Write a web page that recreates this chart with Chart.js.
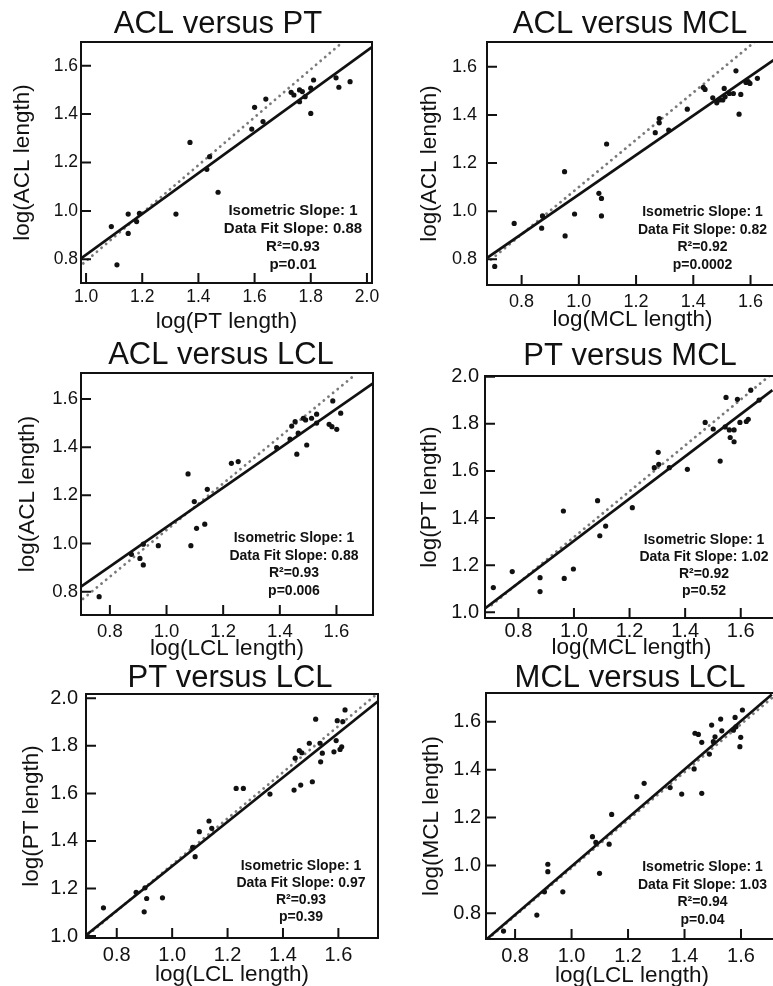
<!DOCTYPE html>
<html>
<head>
<meta charset="utf-8">
<script src="https://cdn.jsdelivr.net/npm/chart.js@4.4.1/dist/chart.umd.min.js"></script>
<style>
    html, body { margin: 0; padding: 0; background: #fff; }
    body { width: 773px; height: 986px; overflow: hidden; position: relative; }
    canvas { position: absolute; }
</style>
</head>
<body>
<script>
// ===== TEXT =====
const panelTitles = ['ACL versus PT', 'ACL versus MCL', 'ACL versus LCL', 'PT versus MCL', 'PT versus LCL', 'MCL versus LCL'];
const xAxisTitles = ['log(PT length)', 'log(MCL length)', 'log(LCL length)', 'log(MCL length)', 'log(LCL length)', 'log(LCL length)'];
const yAxisTitles = ['log(ACL length)', 'log(ACL length)', 'log(ACL length)', 'log(PT length)', 'log(PT length)', 'log(MCL length)'];
const fitSlopes = ['0.88', '0.82', '0.88', '1.02', '0.97', '1.03'];
const rSquared = ['0.93', '0.92', '0.93', '0.92', '0.93', '0.94'];
const pValues = ['0.01', '0.0002', '0.006', '0.52', '0.39', '0.04'];

// ===== AXES =====
const xTicks = [
    [1.0, 1.2, 1.4, 1.6, 1.8, 2.0],
    [0.8, 1.0, 1.2, 1.4, 1.6],
    [0.8, 1.0, 1.2, 1.4, 1.6],
    [0.8, 1.0, 1.2, 1.4, 1.6],
    [0.8, 1.0, 1.2, 1.4, 1.6],
    [0.8, 1.0, 1.2, 1.4, 1.6]
];
const yTicks = [
    [0.8, 1.0, 1.2, 1.4, 1.6],
    [0.8, 1.0, 1.2, 1.4, 1.6],
    [0.8, 1.0, 1.2, 1.4, 1.6],
    [1.0, 1.2, 1.4, 1.6, 1.8, 2.0],
    [1.0, 1.2, 1.4, 1.6, 1.8, 2.0],
    [0.8, 1.0, 1.2, 1.4, 1.6]
];
const xMin = [0.982, 0.679, 0.698, 0.680, 0.689, 0.697];
const xMax = [2.018, 1.696, 1.729, 1.734, 1.743, 1.731];
const yMin = [0.702, 0.693, 0.703, 0.976, 0.992, 0.693];
const yMax = [1.698, 1.703, 1.708, 2.003, 2.018, 1.720];

// ===== POINTS =====
const aclPtX = [1.09, 1.11, 1.15, 1.15, 1.18, 1.19, 1.32, 1.37, 1.43, 1.44, 1.47, 1.59, 1.60, 1.63, 1.64, 1.73, 1.74, 1.76, 1.77, 1.78, 1.76, 1.80, 1.80, 1.81, 1.89, 1.90, 1.94];
const aclPtY = [0.935, 0.777, 0.987, 0.907, 0.956, 0.99, 0.987, 1.283, 1.172, 1.224, 1.077, 1.338, 1.428, 1.369, 1.462, 1.49, 1.479, 1.50, 1.493, 1.472, 1.451, 1.507, 1.403, 1.541, 1.55, 1.511, 1.534];

const aclMclX = [0.706, 0.774, 0.87, 0.873, 0.952, 0.95, 0.985, 1.07, 1.079, 1.079, 1.097, 1.267, 1.281, 1.281, 1.314, 1.379, 1.435, 1.441, 1.468, 1.482, 1.491, 1.503, 1.508, 1.511, 1.526, 1.54, 1.549, 1.566, 1.56, 1.584, 1.592, 1.598, 1.624];
const aclMclY = [0.77, 0.949, 0.929, 0.98, 0.897, 1.164, 0.988, 1.074, 1.053, 0.98, 1.279, 1.326, 1.385, 1.367, 1.337, 1.424, 1.514, 1.506, 1.471, 1.45, 1.462, 1.462, 1.51, 1.475, 1.489, 1.489, 1.583, 1.485, 1.403, 1.535, 1.538, 1.531, 1.552];

const aclLclX = [0.762, 0.876, 0.906, 0.918, 0.918, 0.971, 1.076, 1.086, 1.098, 1.106, 1.135, 1.144, 1.229, 1.253, 1.389, 1.436, 1.442, 1.454, 1.465, 1.46, 1.483, 1.491, 1.495, 1.512, 1.53, 1.53, 1.574, 1.584, 1.587, 1.601, 1.615];
const aclLclY = [0.779, 0.955, 0.938, 0.997, 0.911, 0.991, 1.289, 0.991, 1.174, 1.063, 1.08, 1.225, 1.333, 1.34, 1.398, 1.434, 1.488, 1.506, 1.458, 1.371, 1.52, 1.513, 1.409, 1.52, 1.537, 1.5, 1.495, 1.485, 1.592, 1.474, 1.541];

const ptMclX = [0.71, 0.778, 0.878, 0.878, 0.962, 0.965, 0.998, 1.085, 1.093, 1.114, 1.21, 1.289, 1.303, 1.305, 1.343, 1.408, 1.472, 1.501, 1.526, 1.547, 1.544, 1.559, 1.576, 1.562, 1.576, 1.588, 1.597, 1.627, 1.62, 1.636, 1.666];
const ptMclY = [1.105, 1.173, 1.147, 1.088, 1.43, 1.144, 1.184, 1.474, 1.325, 1.366, 1.444, 1.614, 1.679, 1.628, 1.614, 1.607, 1.806, 1.778, 1.642, 1.912, 1.787, 1.774, 1.774, 1.742, 1.724, 1.904, 1.806, 1.819, 1.81, 1.943, 1.901];

const ptLclX = [0.752, 0.87, 0.902, 0.899, 0.908, 0.965, 1.074, 1.083, 1.098, 1.133, 1.143, 1.231, 1.257, 1.353, 1.44, 1.444, 1.459, 1.464, 1.468, 1.495, 1.506, 1.518, 1.534, 1.536, 1.542, 1.584, 1.592, 1.596, 1.606, 1.612, 1.616, 1.624];
const ptLclY = [1.119, 1.184, 1.203, 1.102, 1.158, 1.161, 1.373, 1.334, 1.439, 1.484, 1.453, 1.621, 1.621, 1.597, 1.614, 1.748, 1.78, 1.635, 1.771, 1.811, 1.649, 1.912, 1.811, 1.733, 1.769, 1.775, 1.822, 1.906, 1.785, 1.796, 1.902, 1.951];

const mclLclX = [0.759, 0.877, 0.904, 0.916, 0.916, 0.969, 1.074, 1.086, 1.099, 1.133, 1.142, 1.231, 1.257, 1.349, 1.39, 1.434, 1.437, 1.449, 1.461, 1.461, 1.488, 1.496, 1.502, 1.508, 1.528, 1.532, 1.573, 1.579, 1.582, 1.596, 1.599, 1.605];
const mclLclY = [0.726, 0.793, 0.89, 1.005, 0.974, 0.89, 1.12, 1.096, 0.967, 1.089, 1.213, 1.287, 1.343, 1.325, 1.298, 1.403, 1.552, 1.547, 1.514, 1.301, 1.465, 1.586, 1.517, 1.537, 1.611, 1.562, 1.565, 1.618, 1.579, 1.496, 1.535, 1.649];

const pointsX = [aclPtX, aclMclX, aclLclX, ptMclX, ptLclX, mclLclX];
const pointsY = [aclPtY, aclMclY, aclLclY, ptMclY, ptLclY, mclLclY];

// ===== LINES (ends) =====
const fitLineX = [[0.982, 2.019], [0.677, 1.683], [0.698, 1.729], [0.680, 1.714], [0.689, 1.742], [0.700, 1.709]];
const fitLineY = [[0.804, 1.678], [0.804, 1.630], [0.821, 1.665], [1.017, 1.943], [1.004, 1.986], [0.693, 1.714]];
const isoLineX = [[0.990, 1.916], [0.677, 1.619], [0.705, 1.665], [0.704, 1.714], [0.698, 1.742], [0.720, 1.750]];
const isoLineY = [[0.783, 1.700], [0.783, 1.708], [0.770, 1.700], [1.031, 2.014], [1.007, 2.021], [0.710, 1.740]];

// ===== LAYOUT (page pixels) =====
const FONT = "'Liberation Sans', Arial, Helvetica, sans-serif";
const AXIS_TITLE = 22.5;
const X_AXIS_H = 56;
const TICK_LEN = 10;
const panelLayout = [
    { box: [81, 42, 372, 283], col: 0, title: [218, 24], yTitleX: 23, xTitleY: 322, tickFont: 17.5, xTickMid: 296.7, yTickRight: 78, ann: [293, 211], annFont: 15, annGap: 17.8 },
    { box: [487, 42, 778, 285], col: 1, title: [630, 24], yTitleX: 430, xTitleY: 320, tickFont: 18, xTickMid: 301.7, yTickRight: 477, ann: [702.5, 212.3], annFont: 14, annGap: 17.6 },
    { box: [81, 373, 373, 615], col: 0, title: [221, 355], yTitleX: 27.5, xTitleY: 649, tickFont: 18.5, xTickMid: 631.7, yTickRight: 78, ann: [294, 538.3], annFont: 14, annGap: 17.5 },
    { box: [485, 376, 778, 618], col: 1, title: [630, 356], yTitleX: 430, xTitleY: 648, tickFont: 20, xTickMid: 631.7, yTickRight: 479, ann: [704, 540], annFont: 14, annGap: 17.2 },
    { box: [86, 694, 378, 938], col: 0, title: [230, 678], yTitleX: 32, xTitleY: 975, tickFont: 20, xTickMid: 955.7, yTickRight: 78, ann: [301, 865.7], annFont: 14, annGap: 17.2 },
    { box: [486, 693, 778, 939], col: 1, title: [630, 678], yTitleX: 431.7, xTitleY: 976, tickFont: 20, xTickMid: 956.7, yTickRight: 481, ann: [702.5, 867.3], annFont: 14, annGap: 17.6 }
];

Chart.defaults.font.family = FONT;
Chart.defaults.color = '#111';

function toXY(xs, ys) {
    return xs.map((x, k) => ({ x: x, y: ys[k] }));
}

// ===== FRAME + INWARD TICKS + TITLE + STATS TEXT =====
function makeTextPlugin(i, cx, cy) {
    const lay = panelLayout[i];
    const lines = ['Isometric Slope: 1', 'Data Fit Slope: ' + fitSlopes[i], 'R\u00B2=' + rSquared[i], 'p=' + pValues[i]];
    return {
        id: 'panelText' + i,
        afterDraw(chart) {
            const ctx = chart.ctx;
            const a = chart.chartArea;
            const sx = chart.scales.x;
            const sy = chart.scales.y;
            ctx.save();
            ctx.strokeStyle = '#111';
            ctx.lineWidth = 2;
            ctx.strokeRect(a.left, a.top, a.right - a.left, a.bottom - a.top);
            ctx.beginPath();
            xTicks[i].forEach(v => {
                const px = sx.getPixelForValue(v);
                ctx.moveTo(px, a.bottom);
                ctx.lineTo(px, a.bottom - TICK_LEN);
            });
            yTicks[i].forEach(v => {
                const py = sy.getPixelForValue(v);
                ctx.moveTo(a.left, py);
                ctx.lineTo(a.left + TICK_LEN, py);
            });
            ctx.stroke();

            ctx.fillStyle = '#111';
            ctx.textAlign = 'center';
            ctx.textBaseline = 'middle';
            ctx.font = '31px ' + FONT;
            ctx.fillText(panelTitles[i], lay.title[0] - cx, lay.title[1] - cy);
            ctx.font = 'bold ' + lay.annFont + 'px ' + FONT;
            lines.forEach((t, k) => ctx.fillText(t, lay.ann[0] - cx, lay.ann[1] - cy + k * lay.annGap));
            ctx.restore();
        }
    };
}

// ===== BUILD ONE PANEL =====
function buildPanel(i) {
    const lay = panelLayout[i];
    const [L, T, R, B] = lay.box;
    const cx = lay.col === 0 ? 0 : 388;
    const cw = lay.col === 0 ? 390 : 400;
    const cy = T - 42;
    const ch = B + X_AXIS_H - cy;

    const canvas = document.createElement('canvas');
    canvas.width = cw;
    canvas.height = ch;
    canvas.style.left = cx + 'px';
    canvas.style.top = cy + 'px';
    canvas.style.width = cw + 'px';
    canvas.style.height = ch + 'px';
    document.body.appendChild(canvas);

    const titleHalf = AXIS_TITLE * 1.2 / 2;

    new Chart(canvas, {
        type: 'scatter',
        data: {
            datasets: [
                {
                    type: 'scatter',
                    data: toXY(pointsX[i], pointsY[i]),
                    pointRadius: 2.6,
                    pointBackgroundColor: '#111',
                    pointBorderWidth: 0,
                    order: 0
                },
                {
                    type: 'line',
                    data: toXY(fitLineX[i], fitLineY[i]),
                    borderColor: '#111',
                    borderWidth: 2.7,
                    pointRadius: 0,
                    fill: false,
                    tension: 0,
                    order: 1
                },
                {
                    type: 'line',
                    data: toXY(isoLineX[i], isoLineY[i]),
                    borderColor: '#7a7a7a',
                    borderWidth: 2.8,
                    borderDash: [0.1, 5.9],
                    borderCapStyle: 'round',
                    pointRadius: 0,
                    fill: false,
                    tension: 0,
                    order: 2
                }
            ]
        },
        options: {
            responsive: false,
            animation: false,
            events: [],
            layout: { padding: { top: T - cy, left: 0, right: cx + cw - R, bottom: 0 } },
            plugins: { legend: { display: false }, tooltip: { enabled: false } },
            scales: {
                x: {
                    type: 'linear',
                    position: 'bottom',
                    min: xMin[i],
                    max: xMax[i],
                    afterBuildTicks: s => { s.ticks = xTicks[i].map(v => ({ value: v })); },
                    afterFit: s => { s.height = X_AXIS_H; },
                    grid: { display: true, drawOnChartArea: false, drawTicks: false },
                    border: { display: false },
                    ticks: {
                        color: '#111',
                        font: { size: lay.tickFont },
                        padding: lay.xTickMid - B - lay.tickFont * 0.6,
                        autoSkip: false,
                        maxRotation: 0,
                        callback: v => v.toFixed(1)
                    },
                    title: {
                        display: true,
                        text: xAxisTitles[i],
                        color: '#111',
                        font: { size: AXIS_TITLE },
                        padding: { top: 0, bottom: B + X_AXIS_H - titleHalf - lay.xTitleY }
                    }
                },
                y: {
                    type: 'linear',
                    position: 'left',
                    min: yMin[i],
                    max: yMax[i],
                    afterBuildTicks: s => { s.ticks = yTicks[i].map(v => ({ value: v })); },
                    afterFit: s => { s.width = L - cx; },
                    grid: { display: true, drawOnChartArea: false, drawTicks: false },
                    border: { display: false },
                    ticks: {
                        color: '#111',
                        font: { size: lay.tickFont },
                        padding: L - lay.yTickRight,
                        autoSkip: false,
                        callback: v => v.toFixed(1)
                    },
                    title: {
                        display: true,
                        text: yAxisTitles[i],
                        color: '#111',
                        font: { size: AXIS_TITLE },
                        padding: { top: lay.yTitleX - cx - titleHalf, bottom: 0 }
                    }
                }
            }
        },
        plugins: [makeTextPlugin(i, cx, cy)]
    });
}

// ===== INIT =====
panelTitles.forEach((t, i) => buildPanel(i));
</script>
</body>
</html>
